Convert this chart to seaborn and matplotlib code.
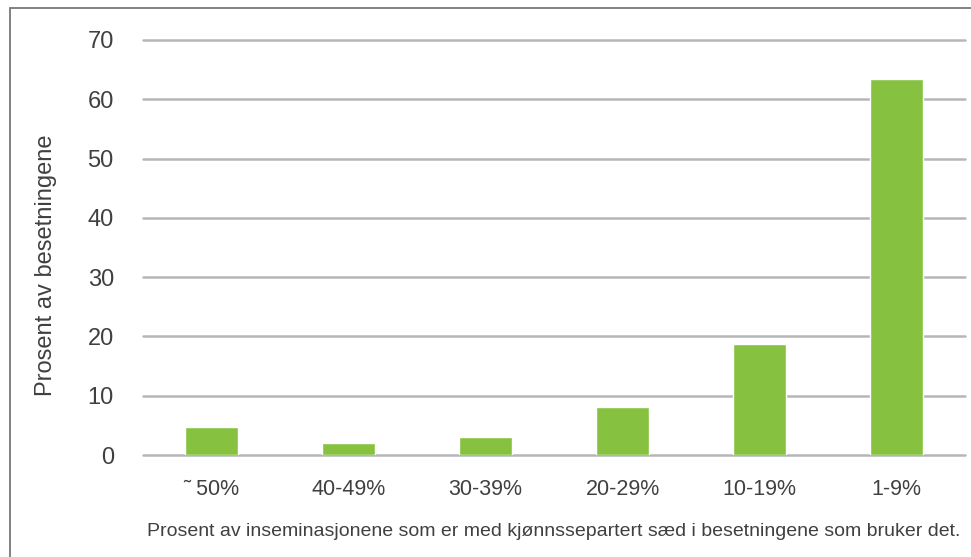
import pandas as pd
import matplotlib.pyplot as plt
import seaborn as sns
from matplotlib.patches import Rectangle

categories = ["˜ 50%", "40-49%", "30-39%", "20-29%", "10-19%", "1-9%"]
values = [4.7, 2.0, 3.0, 8.1, 18.7, 63.4]

df = pd.DataFrame({"kategori": categories, "prosent": values})

sns.set_theme(style="white")
plt.rcParams['font.family'] = ['Liberation Sans', 'DejaVu Sans']

fig = plt.figure(figsize=(9.71, 5.57), dpi=100)
ax = fig.add_axes([143 / 971, 1 - 455 / 557, 822 / 971, 415 / 557])

sns.barplot(data=df, x="kategori", y="prosent", color="#86c240", saturation=1,
            width=0.38, ax=ax, zorder=3)

ax.set_ylim(0, 70)
ax.set_yticks(range(0, 71, 10))
ax.yaxis.grid(True, color="#b4b6b8", linewidth=1.8, zorder=0)
for gl in ax.get_ygridlines():
    gl.set_clip_on(False)
ax.set_axisbelow(True)
for s in ax.spines.values():
    s.set_visible(False)
txt = "#404040"
ax.tick_params(axis="y", labelsize=17, labelcolor=txt, length=0, pad=21)
ax.tick_params(axis="x", labelsize=15.5, labelcolor=txt, length=0, pad=17)

ax.set_ylabel("Prosent av besetningene", fontsize=17, color=txt)
ax.yaxis.set_label_coords(-86 / 822, 0.458)
ax.set_xlabel("Prosent av inseminasjonene som er med kjønnssepartert sæd i besetningene som bruker det.",
              fontsize=14, color=txt)
ax.xaxis.set_label_coords(0.5, -0.165)

fig.patches.append(Rectangle((10 / 971, -0.1), 1.2, 1 - 8 / 557 + 0.1,
                             transform=fig.transFigure, fill=False,
                             edgecolor="#777777", linewidth=1.3))

fig.savefig("out.png", dpi=100)
